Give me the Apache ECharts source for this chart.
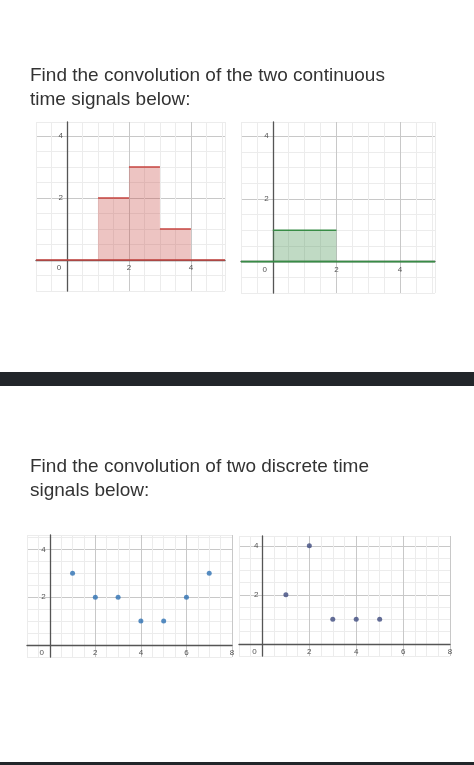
<!DOCTYPE html>
<html>
<head>
<meta charset="utf-8">
<script src="https://cdn.jsdelivr.net/npm/echarts@6/dist/echarts.min.js"></script>
<style>
  html, body { margin: 0; padding: 0; background: #fff; }
  #main { width: 474px; height: 765px; }
</style>
</head>
<body>
<div id="main"></div>
<script>
var chartDom = document.getElementById('main');
var myChart = echarts.init(chartDom);

// continuous signals: piecewise constant pieces
var fStarts = [1, 2, 3];
var fEnds = [2, 3, 4];
var fValues = [2, 3, 1];
var gStarts = [0];
var gEnds = [2];
var gValues = [1];

// discrete signals
var xN = [1, 2, 3, 4, 5, 6, 7];
var xVals = [3, 2, 2, 1, 1, 2, 3];
var hN = [1, 2, 3, 4, 5];
var hVals = [2, 4, 1, 1, 1];

var grids = [
  { left: 36, top: 122, width: 189, height: 169 },
  { left: 241, top: 122, width: 194, height: 171 },
  { left: 27, top: 535, width: 205, height: 122 },
  { left: 239, top: 536, width: 211, height: 120 }
];
var xRanges = [[-1, 5.1], [-1, 5.1], [-1, 8], [-1, 8]];
var yRanges = [[-1, 4.45], [-1, 4.45], [-0.5, 4.6], [-0.5, 4.4]];

function gridColors(min) {
  // major line every 2 units, minor every 0.5
  var cols = [];
  for (var i = 0; i < 4; i++) {
    var v = min + i * 0.5;
    var m = ((v % 2) + 2) % 2;
    cols.push(Math.abs(m) < 1e-6 ? '#c8c8c8' : '#ececec');
  }
  return cols;
}

function makeAxis(i, range, isX) {
  // move the axis (and its labels) onto the other axis's zero
  var other = isX ? yRanges[i] : xRanges[i];
  var size = isX ? grids[i].height : grids[i].width;
  var off = -(0 - other[0]) / (other[1] - other[0]) * size;
  return {
    type: 'value',
    gridIndex: i,
    min: range[0],
    max: range[1],
    interval: 0.5,
    offset: off,
    axisLine: { onZero: false, lineStyle: { color: '#555', width: 1.3 } },
    axisTick: { show: false },
    splitLine: { lineStyle: { color: gridColors(range[0]), width: 1 } },
    axisLabel: {
      fontSize: 8,
      color: '#555',
      margin: 4,
      showMinLabel: true,
      showMaxLabel: true,
      formatter: function (v) {
        if (Math.abs(v) < 1e-6) return isX ? '{z|0}' : '';
        if (Math.abs(v % 2) < 1e-6) return String(v);
        return '';
      },
      rich: { z: { fontSize: 8, color: '#555', padding: [0, 16, 0, 0] } }
    }
  };
}

function stepPolygon(starts, ends, vals) {
  var pts = [[starts[0], 0]];
  for (var i = 0; i < vals.length; i++) {
    pts.push([starts[i], vals[i]]);
    pts.push([ends[i], vals[i]]);
  }
  pts.push([ends[ends.length - 1], 0]);
  return pts;
}

function stepSeries(idx, starts, ends, vals, color, fill, xr) {
  var out = [{
    type: 'line', xAxisIndex: idx, yAxisIndex: idx,
    data: stepPolygon(starts, ends, vals), symbol: 'none',
    lineStyle: { width: 0 }, areaStyle: { color: fill, origin: 0 }, silent: true
  }, {
    type: 'line', xAxisIndex: idx, yAxisIndex: idx,
    data: [[xr[0], 0], [xr[1], 0]], symbol: 'none',
    lineStyle: { color: color, width: 1.6 }
  }];
  for (var i = 0; i < vals.length; i++) {
    out.push({
      type: 'line', xAxisIndex: idx, yAxisIndex: idx,
      data: [[starts[i], vals[i]], [ends[i], vals[i]]], symbol: 'none',
      lineStyle: { color: color, width: 1.6 }
    });
  }
  return out;
}

function zip(a, b) {
  return a.map(function (v, i) { return [v, b[i]]; });
}

var series = []
  .concat(stepSeries(0, fStarts, fEnds, fValues, '#c74440', 'rgba(199,68,64,0.45)', xRanges[0]))
  .concat(stepSeries(1, gStarts, gEnds, gValues, '#388c46', 'rgba(56,140,70,0.45)', xRanges[1]))
  .concat([{
    type: 'scatter', xAxisIndex: 2, yAxisIndex: 2, data: zip(xN, xVals),
    symbolSize: 5, itemStyle: { color: '#2d70b3' }
  }, {
    type: 'scatter', xAxisIndex: 3, yAxisIndex: 3, data: zip(hN, hVals),
    symbolSize: 5, itemStyle: { color: '#3d4a7e' }
  }]);

var titleFont = '"Liberation Sans", "DejaVu Sans", sans-serif';

var option = {
  animation: false,
  backgroundColor: '#fff',
  grid: grids,
  xAxis: [0, 1, 2, 3].map(function (i) { return makeAxis(i, xRanges[i], true); }),
  yAxis: [0, 1, 2, 3].map(function (i) { return makeAxis(i, yRanges[i], false); }),
  series: series,
  graphic: [
    { type: 'text', left: 30, top: 64, style: { text: 'Find the convolution of the two continuous\ntime signals below:', font: '19px ' + titleFont, fill: '#333', lineHeight: 24 } },
    { type: 'text', left: 30, top: 455, style: { text: 'Find the convolution of two discrete time\nsignals below:', font: '19px ' + titleFont, fill: '#333', lineHeight: 24 } },
    { type: 'rect', shape: { x: 0, y: 372, width: 474, height: 14 }, style: { fill: '#22262a' } },
    { type: 'rect', shape: { x: 0, y: 762, width: 474, height: 3 }, style: { fill: '#22262a' } }
  ]
};

option && myChart.setOption(option);
</script>
</body>
</html>
